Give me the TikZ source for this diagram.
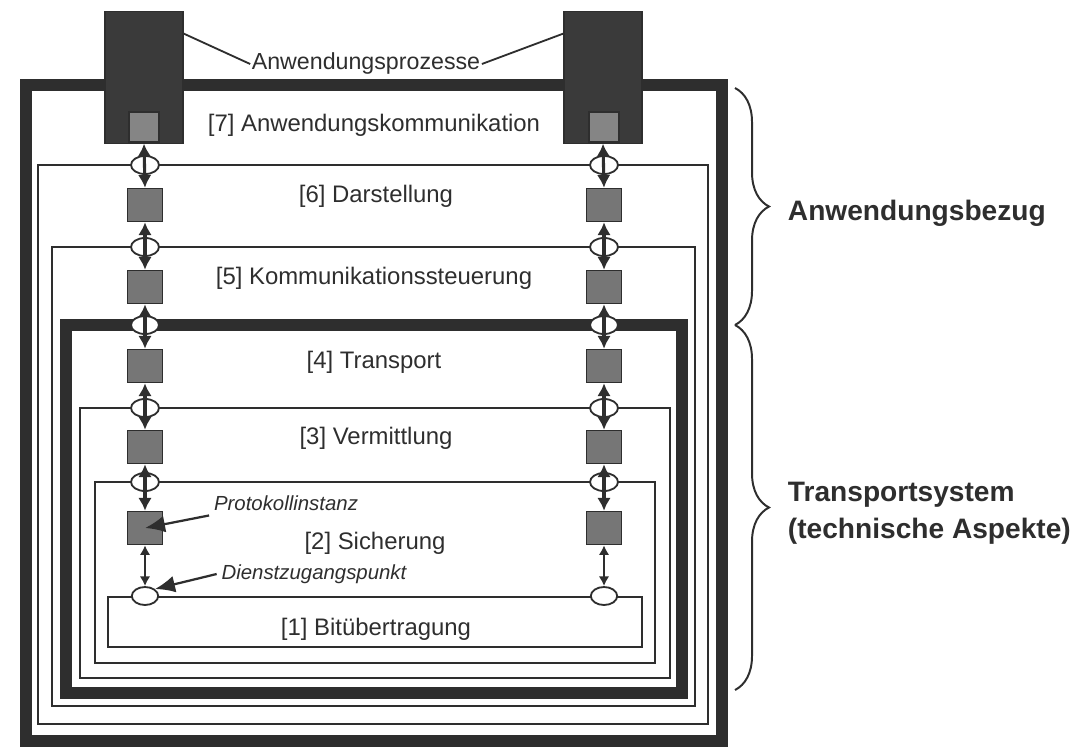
\documentclass[tikz,border=0pt]{standalone}
\usepackage{fontspec}
\setmainfont{Liberation Sans}
\usetikzlibrary{positioning, calc, shapes.geometric, decorations.pathreplacing, arrows.meta}

\definecolor{ink}{HTML}{2E2E2E}
\definecolor{procgray}{HTML}{3A3A3A}
\definecolor{instgray}{HTML}{767676}
\definecolor{toptgray}{HTML}{858585}

\begin{document}
\begin{tikzpicture}[x=0.025cm, y=-0.025cm,
    thinlayer/.style={draw=ink, line width=1.3pt},
    thicklayer/.style={draw=ink, line width=8.5pt},
    process/.style={draw=ink, fill=procgray, line width=0.8pt, minimum width=1.95cm, minimum height=3.28cm, inner sep=0pt},
    topinst/.style={draw=ink, fill=toptgray, line width=0.8pt, minimum size=0.75cm, inner sep=0pt},
    instance/.style={draw=ink, fill=instgray, line width=1.2pt, minimum width=0.87cm, minimum height=0.82cm, inner sep=0pt},
    sap/.style={ellipse, draw=ink, fill=white, line width=1.3pt, minimum width=0.7cm, minimum height=0.45cm, inner sep=0pt},
    service/.style={draw=ink, line width=2.2pt, {Latex[length=3.2mm,width=3.4mm]}-{Latex[length=3.2mm,width=3.4mm]}},
    shortservice/.style={draw=ink, line width=1.8pt, {Latex[length=2.4mm,width=2.6mm]}-{Latex[length=2.4mm,width=2.6mm]}},
    pointer/.style={draw=ink, line width=1.6pt, -{Latex[length=5mm,width=4.2mm]}},
    layertext/.style={text=ink, font=\fontsize{17}{20}\selectfont},
    notetext/.style={text=ink, font=\fontsize{14.5}{17}\selectfont\itshape},
    sidetext/.style={text=ink, font=\fontsize{20}{26}\selectfont\bfseries, align=left, anchor=west},
    brace/.style={draw=ink, line width=1.4pt, decorate, decoration={brace, amplitude=0.85cm}}]

    \useasboundingbox (0,0) rectangle (1090,749);

    % Layer frames
    \draw[thicklayer] (26,85) rectangle (722,741);
    \draw[thinlayer] (38,165) rectangle (708,724);
    \draw[thinlayer] (52,247) rectangle (695,706);
    \draw[thicklayer] (66,325) rectangle (682,693);
    \draw[thinlayer] (80,408) rectangle (670,678);
    \draw[thinlayer] (95,482) rectangle (655,663);
    \draw[thinlayer] (108,597) rectangle (642,647);

    % Application processes
    \node[process] (procL) at (144,77.5) {};
    \node[process] (procR) at (603,77.5) {};
    \node[topinst] (topL) at (144,127) {};
    \node[topinst] (topR) at (604,127) {};
    \node[text=ink, font=\fontsize{16.5}{19}\selectfont, fill=white, inner sep=1pt] (apps) at (366,64) {Anwendungsprozesse};
    \draw[ink, line width=1.3pt] (apps.west) -- (procL.48);
    \draw[ink, line width=1.3pt] (apps.east) -- (procR.132);

    % Service access points, left column
    \node[sap] (sapL6) at (145,165) {};
    \node[sap] (sapL5) at (145,247) {};
    \node[sap] (sapL4) at (145,325) {};
    \node[sap] (sapL3) at (145,408) {};
    \node[sap] (sapL2) at (145,482) {};
    \node[sap, minimum width=0.66cm] (sapL1) at (145,596) {};

    % Service access points, right column
    \node[sap] (sapR6) at (604,165) {};
    \node[sap] (sapR5) at (604,247) {};
    \node[sap] (sapR4) at (604,325) {};
    \node[sap] (sapR3) at (604,408) {};
    \node[sap] (sapR2) at (604,482) {};
    \node[sap, minimum width=0.66cm] (sapR1) at (604,596) {};

    % Protocol instances
    \node[instance] (insL6) at (145,205) {};
    \node[instance] (insL5) at (145,287) {};
    \node[instance] (insL4) at (145,366) {};
    \node[instance] (insL3) at (145,447) {};
    \node[instance] (insL2) at (145,528) {};
    \node[instance] (insR6) at (604,205) {};
    \node[instance] (insR5) at (604,287) {};
    \node[instance] (insR4) at (604,366) {};
    \node[instance] (insR3) at (604,447) {};
    \node[instance] (insR2) at (604,528) {};

    % Services between the layers
    \draw[service] (procL.south) -- (insL6.north);
    \draw[service] (insL6.south) -- (insL5.north);
    \draw[service] (insL5.south) -- (insL4.north);
    \draw[service] (insL4.south) -- (insL3.north);
    \draw[service] (insL3.south) -- (insL2.north);
    \draw[shortservice] (insL2.south) -- (sapL1.north);
    \draw[service] (procR.south) -- (insR6.north);
    \draw[service] (insR6.south) -- (insR5.north);
    \draw[service] (insR5.south) -- (insR4.north);
    \draw[service] (insR4.south) -- (insR3.north);
    \draw[service] (insR3.south) -- (insR2.north);
    \draw[shortservice] (insR2.south) -- (sapR1.north);

    % Layer names
    \node[layertext] (name7) at (374,125) {[7] Anwendungskommunikation};
    \node[layertext] (name6) at (376,196) {[6] Darstellung};
    \node[layertext] (name5) at (374,278) {[5] Kommunikationssteuerung};
    \node[layertext] (name4) at (374,362) {[4] Transport};
    \node[layertext] (name3) at (376,438) {[3] Vermittlung};
    \node[layertext] (name2) at (375,543) {[2] Sicherung};
    \node[layertext] (name1) at (376,629) {[1] Bitübertragung};

    % Annotations
    \node[notetext] (proto) at (286,503) {Protokollinstanz};
    \node[notetext] (dienst) at (314,574) {Dienstzugangspunkt};
    \draw[pointer] (proto.south west) -- (insL2.center);
    \draw[pointer] (dienst.west) -- (sapL1.north east);

    % Braces on the right
    \draw[brace] (735,88) -- (735,325);
    \draw[brace] (735,325) -- (735,690);
    \node[sidetext] (appref) at (783,213) {Anwendungsbezug};
    \node[sidetext] (transys) at (783,513) {Transportsystem\\(technische Aspekte)};

\end{tikzpicture}
\end{document}
